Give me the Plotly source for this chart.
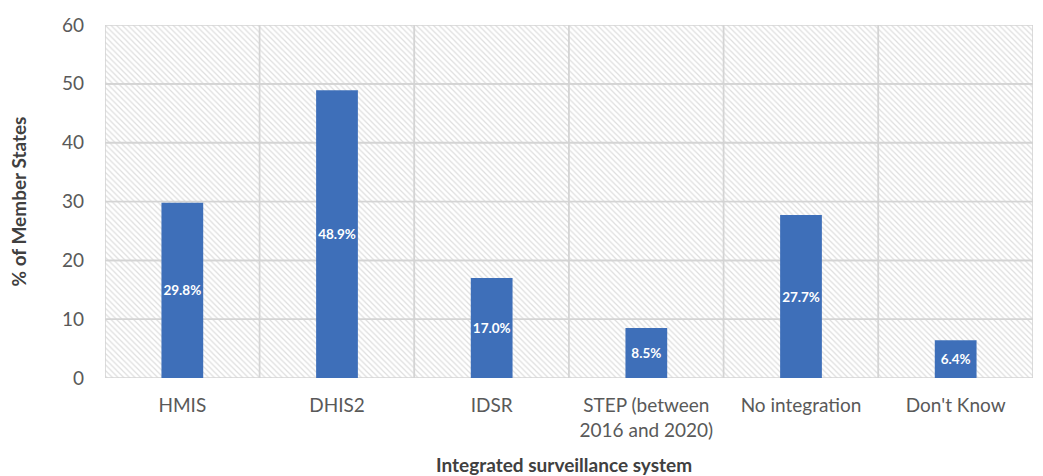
import plotly.graph_objects as go

categories = ["HMIS", "DHIS2", "IDSR", "STEP (between<br>2016 and 2020)", "No integration", "Don't Know"]
values = [29.8, 48.9, 17.0, 8.5, 27.7, 6.4]
labels = [f"{v:.1f}%" for v in values]
y_ticks = [0, 10, 20, 30, 40, 50, 60]

FONT = "Lato"

# hatched background cells (one per category x gridline band)
cell_x, cell_base, cell_h = [], [], []
for c in categories:
    for lo, hi in zip(y_ticks[:-1], y_ticks[1:]):
        cell_x.append(c)
        cell_base.append(lo)
        cell_h.append(hi - lo)

fig = go.Figure()
fig.add_trace(go.Bar(
    x=cell_x, y=cell_h, base=cell_base, width=1,
    marker=dict(color="white",
                pattern=dict(shape="\\", fgcolor="#bdbdbd", bgcolor="white", size=4, solidity=0.3),
                line=dict(color="#d4d4d4", width=1.6)),
    hoverinfo="skip", showlegend=False, xaxis="x", yaxis="y",
))
fig.add_trace(go.Bar(
    x=categories, y=values, width=0.27,
    marker=dict(color="#3e6fb9", line=dict(width=0)),
    text=labels, textposition="inside", insidetextanchor="middle",
    textangle=0, constraintext="none",
    textfont=dict(family=FONT, size=13.5, color="white", weight="bold"),
    showlegend=False, xaxis="x2", yaxis="y2", cliponaxis=False,
))

fig.update_layout(
    width=1043, height=476,
    margin=dict(l=97, r=18, t=17, b=106),
    paper_bgcolor="white", plot_bgcolor="white",
    barmode="overlay",
    font=dict(family=FONT, color="#595959", size=19),
    xaxis=dict(range=[-0.5, 5.5], showgrid=False, zeroline=False, showline=False,
               ticks="", ticklabelstandoff=14, automargin=False,
               tickfont=dict(family=FONT, size=19, color="#595959")),
    yaxis=dict(range=[0, 60], tickvals=y_ticks, showgrid=False, zeroline=False, showline=False,
               ticks="", ticklabelstandoff=20, automargin=False,
               tickfont=dict(family=FONT, size=19, color="#595959")),
    xaxis2=dict(overlaying="x", matches="x", visible=False),
    yaxis2=dict(overlaying="y", matches="y", visible=False),
    annotations=[
        dict(text="<b>Integrated surveillance system</b>", xref="paper", yref="paper",
             x=0.495, y=0, yshift=-86, xanchor="center", yanchor="middle", showarrow=False,
             font=dict(family=FONT, size=19, color="#404040")),
        dict(text="<b>% of Member States</b>", xref="paper", yref="paper",
             x=0, xshift=-87, y=0.5, xanchor="center", yanchor="middle", textangle=-90,
             showarrow=False, font=dict(family=FONT, size=19, color="#404040")),
    ],
)

fig.write_html("out.html")
